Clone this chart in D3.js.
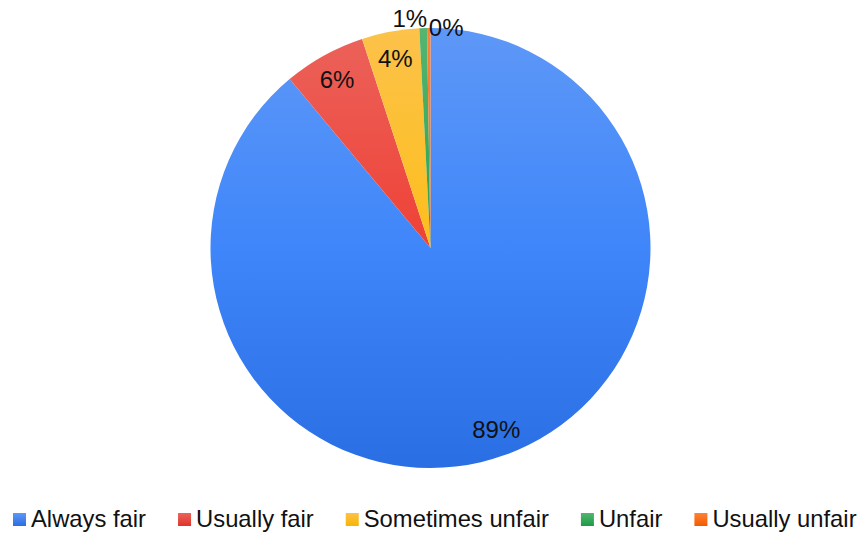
<!DOCTYPE html>
<html>
<head>
<meta charset="utf-8">
<script src="https://cdn.jsdelivr.net/npm/d3@7"></script>
<style>
  html, body { margin: 0; padding: 0; background: #fff; }
  svg { display: block; }
  text { font-family: "Liberation Sans", Arial, sans-serif; }
</style>
</head>
<body>
<svg id="chart" width="863" height="533"></svg>
<script>
// ---- data ----
const categories = ["Always fair", "Usually fair", "Sometimes unfair", "Unfair", "Usually unfair"];
const shares = [88.94, 6.03, 4.22, 0.56, 0.25];   // percent
const colorsTop = ["#5e98f7", "#eb635b", "#fcc24a", "#55b571", "#ff8235"];
const colorsMid = ["#3f86fa", "#ef4136", "#fdbe1c", "#27a24f", "#fb6a12"];
const colorsBottom = ["#2a6ee3", "#e0342a", "#f8b500", "#1c9b46", "#f25a00"];

const W = 863, H = 533;
const cx = 430.5, cy = 248, R = 220;
const fontSize = 24;
const legendFontSize = 23.8;

const svg = d3.select("#chart");
const defs = svg.append("defs");

// vertical gradients spanning the pie (user space of the translated pie group)
categories.forEach((c, i) => {
  const g = defs.append("linearGradient")
    .attr("id", "grad" + i)
    .attr("gradientUnits", "userSpaceOnUse")
    .attr("x1", 0).attr("y1", -R)
    .attr("x2", 0).attr("y2", R);
  g.append("stop").attr("offset", "0%").attr("stop-color", colorsTop[i]);
  g.append("stop").attr("offset", "50%").attr("stop-color", colorsMid[i]);
  g.append("stop").attr("offset", "100%").attr("stop-color", colorsBottom[i]);
  const lg = defs.append("linearGradient")
    .attr("id", "lgrad" + i)
    .attr("x1", 0).attr("y1", 0).attr("x2", 0).attr("y2", 1);
  lg.append("stop").attr("offset", "0%").attr("stop-color", colorsTop[i]);
  lg.append("stop").attr("offset", "100%").attr("stop-color", colorsBottom[i]);
});

const data = categories.map((c, i) => ({ name: c, value: shares[i], i }));
const pie = d3.pie().value(d => d.value).sort(null);
const arcs = pie(data);
const arc = d3.arc().innerRadius(0).outerRadius(R);

const g = svg.append("g").attr("transform", `translate(${cx},${cy})`);
g.selectAll("path.slice")
  .data(arcs)
  .join("path")
  .attr("class", "slice")
  .attr("d", arc)
  .attr("fill", d => `url(#grad${d.data.i})`);

// ---- labels ----
const total = d3.sum(shares);
const fmt = d => Math.round(d.value / total * 100) + "%";
const labelR = 193;
const minSpan = 5 * Math.PI / 180;

const labels = arcs.map(d => {
  const mid = (d.startAngle + d.endAngle) / 2;
  const span = d.endAngle - d.startAngle;
  if (span >= minSpan) {
    return { text: fmt(d.data), x: labelR * Math.sin(mid), y: -labelR * Math.cos(mid), anchor: "middle", small: false };
  }
  return { text: fmt(d.data), x: R * Math.sin(mid), y: -R * Math.cos(mid), anchor: null, small: true };
});
// outside labels for thin slices: alternate anchors and push earlier ones up
const smalls = labels.filter(l => l.small);
smalls.forEach((l, k) => {
  if (k < smalls.length - 1) { l.anchor = "end"; l.x += 4; }
  else { l.anchor = "start"; }
});
for (let k = smalls.length - 2; k >= 0; k--) {
  smalls[k].y = Math.min(smalls[k].y, smalls[k + 1].y - 9.6);
}

g.selectAll("text.lbl")
  .data(labels)
  .join("text")
  .attr("class", "lbl")
  .attr("x", d => d.x)
  .attr("y", d => d.y)
  .attr("dy", "0.35em")
  .attr("text-anchor", d => d.anchor)
  .attr("font-size", fontSize)
  .attr("fill", "#111")
  .text(d => d.text);

// ---- legend ----
const sq = 13, gapText = 18, gapItem = 32;
const legend = svg.append("g");
const items = legend.selectAll("g.item").data(data).join("g").attr("class", "item");
items.append("rect")
  .attr("width", sq).attr("height", sq)
  .attr("y", 513)
  .attr("fill", d => `url(#lgrad${d.i})`);
items.append("text")
  .attr("x", gapText)
  .attr("y", 527)
  .attr("font-size", legendFontSize)
  .attr("fill", "#111")
  .text(d => d.name);
let x = 0;
const offs = [];
items.each(function (d) {
  const w = d3.select(this).select("text").node().getComputedTextLength();
  offs.push(x);
  x += gapText + w + gapItem;
});
const startX = 13;
items.attr("transform", (d, k) => `translate(${startX + offs[k]},0)`);
</script>
</body>
</html>
